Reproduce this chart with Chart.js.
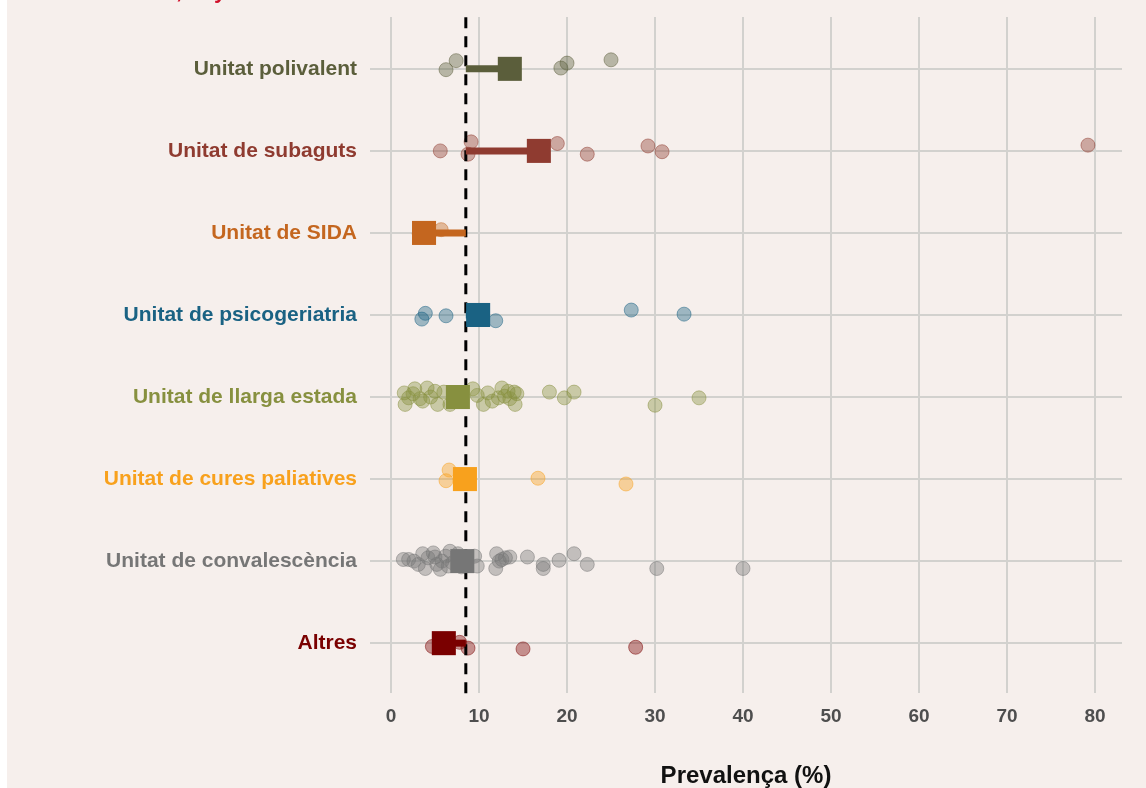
<!DOCTYPE html>
<html>
<head>
<meta charset="utf-8">
<script src="https://cdn.jsdelivr.net/npm/chart.js@4.4.0/dist/chart.umd.min.js"></script>
<style>
  html, body { margin: 0; padding: 0; background: #ffffff; }
  #wrap { position: absolute; left: 7px; top: 0; width: 1139px; height: 788px; background: #F6EFEC; }
</style>
</head>
<body>
<div id="wrap"><canvas id="myChart" width="1139" height="788"></canvas></div>
<script>
'use strict';

// * Categories from top row to bottom row.
const categories = [
  'Unitat polivalent',
  'Unitat de subaguts',
  'Unitat de SIDA',
  'Unitat de psicogeriatria',
  'Unitat de llarga estada',
  'Unitat de cures paliatives',
  'Unitat de convalescència',
  'Altres',
];
const colors = ['#5B5E3B', '#8F3B30', '#C4661F', '#1A6283', '#87903F', '#F8A11D', '#767676', '#7A0000'];

// * Mean prevalence per category and overall mean (dashed line).
const means = [13.5, 16.8, 3.75, 9.9, 7.6, 8.4, 8.1, 6.0];
const overallMean = 8.5;

// * Individual centre values (%) and their vertical jitter (row units).
const poliValues = [6.25, 7.4, 19.3, 20.0, 25.0];
const poliJitter = [-0.01, 0.1, 0.01, 0.07, 0.11];
const subagutsValues = [5.6, 9.1, 8.75, 18.9, 22.3, 29.2, 30.8, 79.2];
const subagutsJitter = [0, 0.11, -0.04, 0.09, -0.04, 0.06, -0.01, 0.07];
const sidaValues = [5.7, 3.2];
const sidaJitter = [0.04, -0.01];
const psicoValues = [3.9, 3.5, 6.25, 11.9, 27.3, 33.3, 9.5];
const psicoJitter = [0.02, -0.05, -0.01, -0.07, 0.06, 0.01, 0];
const llargaValues = [1.5, 1.6, 2.0, 2.7, 3.3, 4.1, 3.6, 5.0, 5.3, 6.7, 9.3, 10.5, 11.0, 12.2, 12.6, 13.3, 13.5, 14.3, 14.1, 18.0, 19.7, 20.8, 30.0, 35.0, 2.5, 4.5, 6.0, 7.5, 8.0, 9.8, 11.5, 12.9, 14.0];
const llargaJitter = [0.05, -0.09, -0.01, 0.1, -0.02, 0.11, -0.05, 0.07, -0.09, -0.09, 0.1, -0.09, 0.05, -0.01, 0.11, 0.07, -0.02, 0.04, -0.09, 0.06, -0.01, 0.06, -0.1, -0.01, 0.04, 0, 0.06, 0.01, -0.04, 0.02, -0.05, 0.01, 0.06];
const curesValues = [6.6, 6.25, 16.7, 26.7];
const curesJitter = [0.11, -0.02, 0.01, -0.06];
const convalValues = [1.4, 2.0, 3.1, 3.6, 3.9, 4.8, 5.2, 5.6, 6.7, 6.5, 9.8, 9.5, 12.0, 11.9, 12.6, 13.5, 15.5, 17.3, 17.3, 19.1, 20.8, 22.3, 30.2, 40.0, 4.2, 5.0, 5.8, 6.2, 7.0, 7.6, 8.0, 2.6, 12.3, 13.0];
const convalJitter = [0.02, 0.02, -0.04, 0.09, -0.09, 0.1, -0.04, -0.1, 0.12, -0.06, -0.06, 0.06, 0.09, -0.09, 0.02, 0.05, 0.05, -0.04, -0.09, 0.01, 0.09, -0.04, -0.09, -0.09, 0.04, 0.05, 0, 0.06, -0.02, 0.09, -0.07, 0, 0, 0.04];
const altresValues = [4.7, 7.8, 8.75, 15.0, 27.8];
const altresJitter = [-0.04, 0.01, -0.06, -0.07, -0.05];

const allValues = [poliValues, subagutsValues, sidaValues, psicoValues, llargaValues, curesValues, convalValues, altresValues];
const allJitter = [poliJitter, subagutsJitter, sidaJitter, psicoJitter, llargaJitter, curesJitter, convalJitter, altresJitter];

const xTicks = [0, 10, 20, 30, 40, 50, 60, 70, 80];
const titleText = 'Centres sociosanitaris, any 2017';

// * Row 8 is the top category, row 1 the bottom one.
const rowOf = (i) => categories.length - i;

const alpha = (hex, a) => {
  const n = parseInt(hex.slice(1), 16);
  return `rgba(${(n >> 16) & 255}, ${(n >> 8) & 255}, ${n & 255}, ${a})`;
};

const datasets = [];

categories.forEach((cat, i) => {
  datasets.push({
    type: 'scatter',
    data: allValues[i].map((v, j) => ({ x: v, y: rowOf(i) + allJitter[i][j] })),
    pointRadius: 7,
    backgroundColor: alpha(colors[i], 0.4),
    borderColor: alpha(colors[i], 0.5),
    borderWidth: 1,
    order: 4,
  });
  datasets.push({
    type: 'line',
    data: [{ x: overallMean, y: rowOf(i) }, { x: means[i], y: rowOf(i) }],
    borderColor: colors[i],
    borderWidth: 7,
    pointRadius: 0,
    order: 2,
  });
  datasets.push({
    type: 'scatter',
    data: [{ x: means[i], y: rowOf(i) }],
    pointStyle: 'rect',
    pointRadius: 17,
    backgroundColor: colors[i],
    borderColor: colors[i],
    borderWidth: 0,
    order: 1,
  });
});

datasets.push({
  type: 'line',
  data: [{ x: overallMean, y: 0.39 }, { x: overallMean, y: 8.632 }],
  borderColor: '#000000',
  borderWidth: 3,
  borderDash: [11, 8],
  pointRadius: 0,
  clip: false,
  order: 3,
});

const titlePlugin = {
  id: 'cutTitle',
  afterDraw(chart) {
    const c = chart.ctx;
    c.save();
    c.font = 'bold 22px "Liberation Sans", Arial, sans-serif';
    c.fillStyle = '#D0102A';
    c.textBaseline = 'alphabetic';
    const prefix = titleText.slice(0, titleText.indexOf(','));
    c.fillText(titleText, 169 - c.measureText(prefix).width, -2);
    c.restore();
  },
};

new Chart(document.getElementById('myChart'), {
  type: 'scatter',
  data: { datasets },
  plugins: [titlePlugin],
  options: {
    responsive: false,
    animation: false,
    layout: { padding: { top: 14, right: 24, left: 0, bottom: 0 } },
    plugins: {
      legend: { display: false },
      tooltip: { enabled: false },
    },
    scales: {
      x: {
        type: 'linear',
        min: -2.39,
        max: 83.07,
        afterBuildTicks: (s) => { s.ticks = xTicks.map((v) => ({ value: v })); },
        afterFit: (s) => { s.height = 103; s.paddingLeft = 0; s.paddingRight = 0; },
        border: { display: false },
        grid: { color: '#D2D1CE', lineWidth: 2, tickLength: 8, tickColor: '#D2D1CE' },
        ticks: {
          padding: 12,
          color: '#4E4E4E',
          font: { family: '"Liberation Sans", Arial', size: 19, weight: 'bold' },
        },
        title: {
          display: true,
          text: 'Prevalença (%)',
          color: '#111111',
          padding: { top: 0, bottom: -3 },
          font: { family: '"Liberation Sans", Arial', size: 24, weight: 'bold' },
        },
      },
      y: {
        type: 'linear',
        min: 0.49,
        max: 8.632,
        afterBuildTicks: (s) => { s.ticks = categories.map((c, i) => ({ value: rowOf(i) })); },
        afterFit: (s) => { s.width = 363; s.paddingTop = 0; s.paddingBottom = 0; },
        border: { display: false },
        grid: { color: '#D2D1CE', lineWidth: 2, drawTicks: false },
        ticks: {
          padding: 13,
          callback: (v) => categories[categories.length - v],
          color: (ctx) => colors[categories.length - ctx.tick.value],
          font: { family: '"Liberation Sans", Arial', size: 21, weight: 'bold' },
        },
      },
    },
  },
});
</script>
</body>
</html>
